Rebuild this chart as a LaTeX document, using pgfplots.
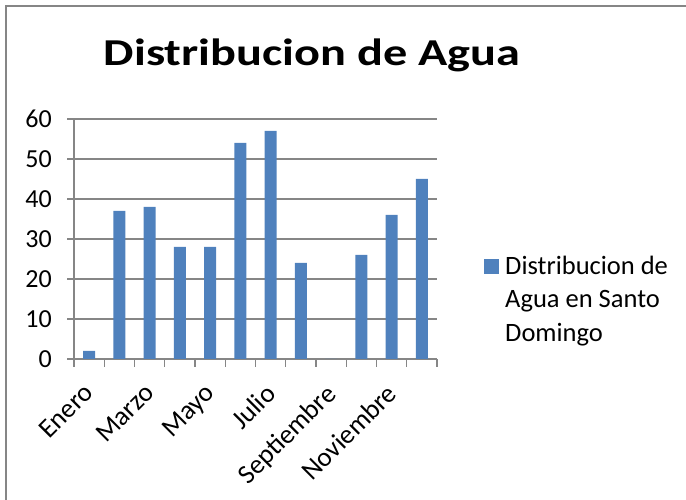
\documentclass[border=0pt]{standalone}
\usepackage{fontspec}
\setmainfont{Carlito}
\usepackage{pgfplots}
\pgfplotsset{compat=1.18}
\definecolor{barblue}{HTML}{4F81BD}
\definecolor{gridgray}{HTML}{868686}
\begin{document}
\begin{tikzpicture}[x=1pt,y=1pt]
\useasboundingbox (0,0) rectangle (686,500);
\draw[gridgray, line width=1.5pt] (6,0) -- (6,494) -- (686,494);
\begin{axis}[
  at={(74pt,141pt)}, anchor=south west,
  scale only axis, width=363pt, height=240pt,
  xmin=-0.5, xmax=11.5, ymin=0, ymax=60,
  axis lines*=left,
  axis line style={gridgray, line width=1.2pt, -},
  ytick={0,10,...,60},
  ymajorgrids, grid style={gridgray, line width=1.2pt},
  tick align=outside,
  major tick style={gridgray, line width=1.2pt},
  minor tick style={gridgray, line width=1.2pt},
  major tick length=7pt,
  minor tick length=8pt,
  every major x tick/.append style={draw=none},
  xtick={0,2,...,10},
  xticklabels={Enero,Marzo,Mayo,Julio,Septiembre,Noviembre},
  minor xtick={-0.5,0.5,...,11.5},
  yticklabel style={font=\fontsize{26}{30}\selectfont, inner sep=0pt, xshift=-15pt},
  xticklabel style={font=\fontsize{27}{32}\selectfont, xshift=-6.5pt, yshift=-16pt, rotate=45, anchor=north east, inner sep=0pt},
  /pgf/number format/assume math mode=true,
  ybar, bar width=12pt,
  title={\scalebox{1.27}[1]{Distribucion de Agua}},
  title style={font=\fontsize{38}{44}\selectfont\bfseries, anchor=base, at={(axis description cs:0.6556,1.196)}},
  legend style={draw=none, fill=none, inner sep=0pt, at={(axis description cs:1.1295,0.398)}, anchor=west,
    font=\fontsize{26.5}{33.5}\selectfont, cells={anchor=base west}},
  legend image code/.code={\fill[barblue] (0pt,0pt) rectangle (15pt,15pt);},
]
\addplot[fill=barblue, draw=none] coordinates {
(0,2) (1,37) (2,38) (3,28) (4,28) (5,54) (6,57) (7,24) (8,0) (9,26) (10,36) (11,45)};
\addlegendentry{\begin{tabular}[t]{@{\hspace{4pt}}l@{}}Distribucion de\\Agua en Santo\\Domingo\end{tabular}}
\end{axis}
\end{tikzpicture}
\end{document}
